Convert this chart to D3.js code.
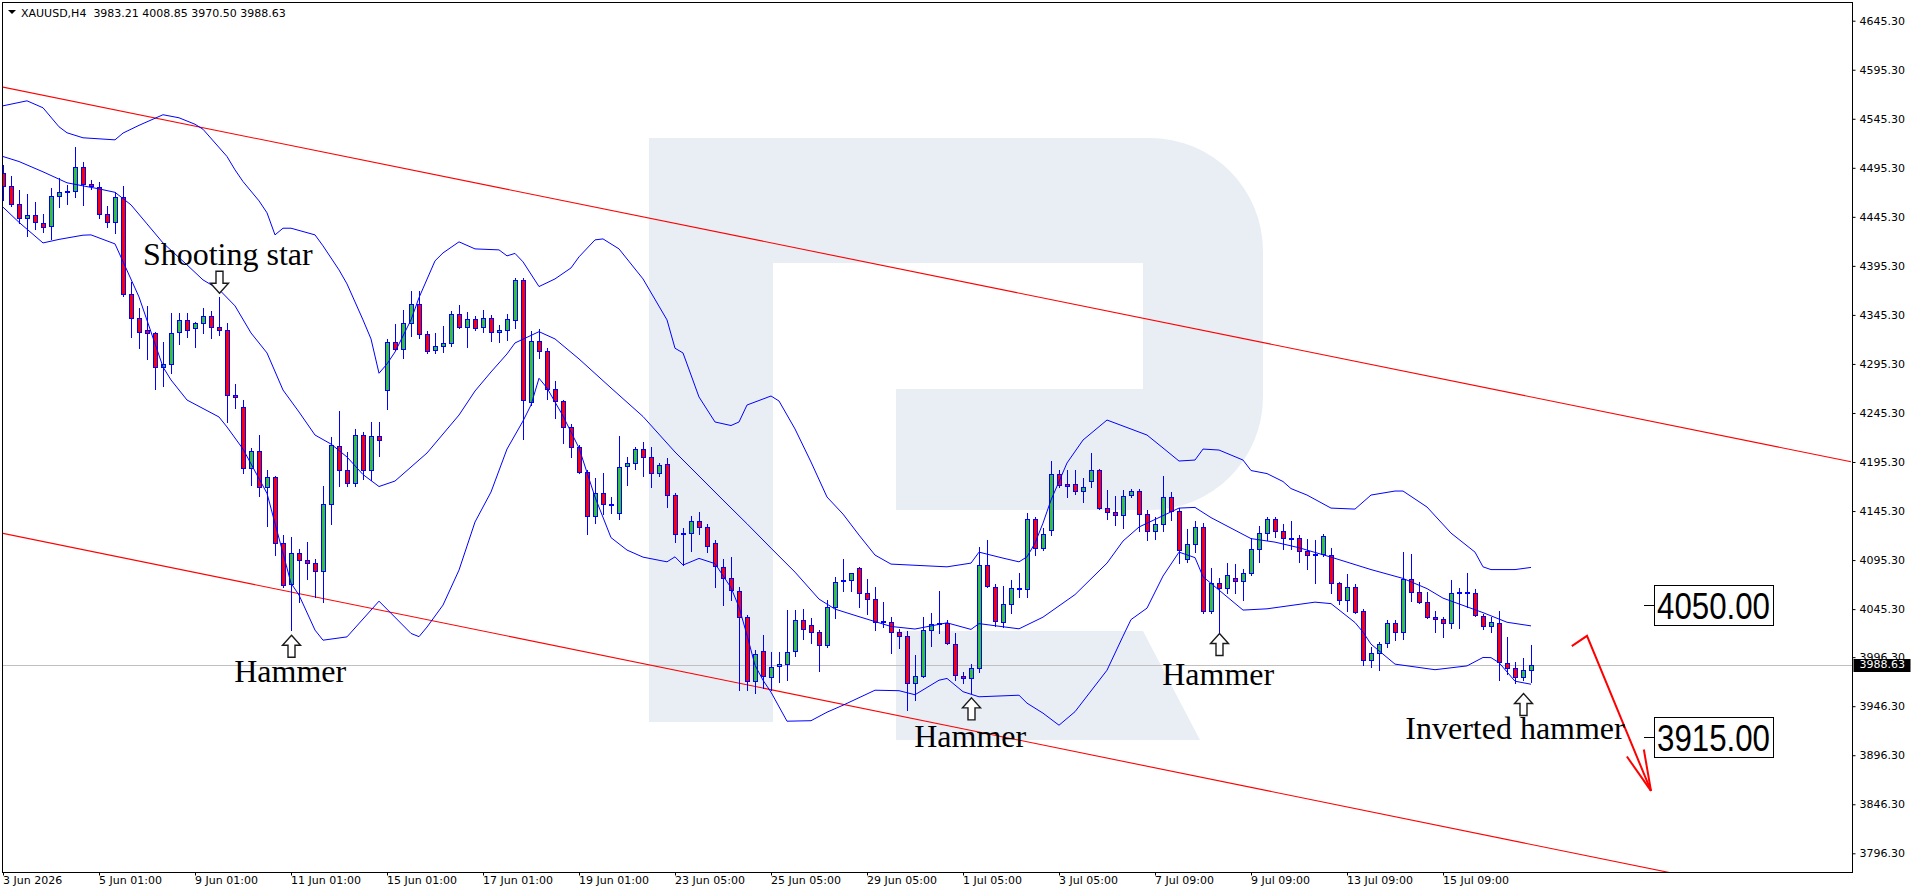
<!DOCTYPE html>
<html><head><meta charset="utf-8">
<script src="https://cdn.jsdelivr.net/npm/d3@7/dist/d3.min.js"></script>
<style>
html,body{margin:0;padding:0;background:#fff;overflow:hidden}
svg{display:block}
.axis text{font-family:"DejaVu Sans",sans-serif;font-size:11px;fill:#000}
</style></head><body>
<svg id="chart" width="1916" height="896"></svg>
<script>
// ---------------- DATA ----------------
const symbol = "XAUUSD,H4";
const opens = [4490.5,4476.9,4458.5,4443.9,4447.0,4438.8,4436.4,4466.7,4470.5,4471.8,4496.0,4478.9,4475.4,4448.0,4440.5,4465.4,4366.4,4342.5,4329.7,4326.6,
4292.5,4295.3,4327.6,4339.9,4331.7,4336.8,4343.9,4332.7,4329.7,4263.6,4251.1,4188.9,4206.5,4169.5,4179.7,4112.3,4070.8,4102.1,4095.0,4092.2,
4083.8,4152.1,4211.3,4187.1,4173.5,4222.5,4187.1,4221.5,4268.4,4317.4,4310.3,4336.8,4356.5,4325.6,4309.6,4313.9,4316.4,4346.0,4332.7,4340.9,
4332.7,4341.9,4327.6,4329.7,4339.9,4380.7,4256.2,4318.7,4308.2,4269.5,4257.2,4230.7,4210.3,4185.1,4140.2,4163.3,4151.7,4142.9,4191.2,4193.9,
4208.2,4200.1,4183.7,4192.9,4161.3,4122.5,4122.5,4135.4,4128.6,4112.3,4088.4,4076.6,4063.9,4037.4,3972.1,4002.9,3976.4,3987.1,3988.9,4002.4,
4034.6,4028.6,4021.5,4008.2,4047.0,4073.8,4074.9,4086.8,4061.3,4055.2,4033.0,4032.3,4021.5,4017.7,3969.5,3977.6,4023.9,4030.0,4031.3,4010.2,
3977.6,3974.6,3985.4,4090.2,4068.0,4031.7,4050.4,4065.4,4065.4,4136.8,4107.2,4125.9,4182.7,4172.5,4172.5,4165.7,4175.9,4187.1,4148.0,4143.9,
4141.2,4161.6,4165.7,4141.9,4124.9,4131.7,4159.3,4145.3,4096.0,4111.3,4128.6,4043.5,4072.1,4066.4,4076.6,4073.8,4081.7,4106.2,4122.5,4137.1,
4124.9,4118.0,4117.4,4104.5,4101.1,4101.1,4100.4,4072.1,4054.5,4068.0,4043.5,3993.2,4000.7,4010.9,4031.3,4021.5,4075.9,4062.9,4052.1,4036.8,
4035.1,4030.7,4061.3,4062.3,4061.3,4038.5,4027.9,4031.3,3989.9,3984.8,3976.2,3983.21];
const highs = [4498.3,4487.1,4472.8,4468.7,4460.3,4448.3,4475.2,4484.8,4477.9,4516.7,4501.1,4482.5,4481.3,4456.8,4470.8,4476.9,4379.3,4352.7,4354.5,4328.2,
4317.4,4347.0,4347.0,4347.0,4338.4,4352.7,4349.4,4364.0,4337.1,4274.6,4258.5,4209.3,4222.8,4187.1,4181.3,4120.8,4119.1,4106.5,4113.3,4096.3,
4170.8,4221.1,4247.3,4205.8,4228.6,4226.2,4235.8,4235.8,4320.5,4336.1,4350.4,4369.8,4369.8,4329.0,4326.6,4334.0,4349.4,4355.5,4348.3,4344.3,
4350.4,4345.3,4335.1,4346.0,4383.3,4383.3,4329.0,4331.0,4311.3,4277.9,4258.5,4234.1,4212.6,4187.1,4178.6,4183.7,4159.3,4221.8,4200.7,4210.9,
4215.4,4210.9,4193.9,4199.1,4163.3,4127.6,4140.5,4144.6,4131.7,4115.7,4095.9,4098.0,4067.4,4039.1,4003.4,4018.8,4001.2,4001.4,4044.3,4044.8,
4045.0,4036.6,4023.8,4054.5,4077.6,4096.0,4082.3,4088.4,4075.6,4068.0,4052.7,4037.4,4024.6,4023.1,3998.3,4037.4,4040.9,4063.6,4033.7,4020.5,
3981.3,3988.9,4108.9,4115.7,4070.5,4068.7,4074.9,4081.7,4143.5,4139.5,4127.6,4196.3,4187.1,4187.1,4187.1,4178.6,4204.8,4188.1,4166.7,4160.6,
4166.7,4167.4,4167.4,4146.3,4139.5,4181.0,4165.0,4148.0,4126.6,4135.1,4133.6,4086.8,4076.6,4091.9,4090.9,4085.8,4117.4,4130.0,4139.5,4139.5,
4131.7,4134.8,4120.8,4116.4,4115.7,4121.5,4107.9,4073.1,4081.0,4070.5,4045.0,4006.8,4012.0,4033.7,4033.7,4103.1,4101.4,4073.1,4062.3,4043.2,
4037.4,4074.9,4066.4,4081.7,4065.7,4039.9,4037.4,4043.5,4016.4,3990.9,3995.6,4008.85];
const lows = [4462.6,4456.5,4438.8,4426.2,4433.0,4430.3,4422.8,4455.8,4458.5,4465.4,4457.5,4473.5,4444.6,4435.4,4429.0,4364.7,4323.1,4311.9,4300.1,4269.5,
4273.1,4286.4,4315.4,4323.1,4312.9,4326.6,4321.5,4324.9,4236.4,4250.1,4183.7,4171.8,4160.9,4130.3,4100.4,4067.4,4023.9,4052.7,4075.9,4057.2,
4052.7,4131.7,4171.1,4171.1,4171.1,4177.9,4176.9,4201.7,4249.1,4309.6,4301.1,4324.2,4321.5,4306.8,4306.2,4307.8,4313.9,4331.7,4312.9,4330.0,
4328.2,4318.3,4317.3,4319.8,4331.7,4219.1,4253.4,4301.7,4259.3,4239.9,4214.4,4200.7,4183.7,4121.5,4132.7,4141.9,4142.9,4136.8,4171.8,4188.1,
4181.3,4169.5,4181.3,4149.7,4114.0,4090.2,4104.5,4121.8,4103.7,4068.0,4049.4,4054.5,3963.3,3963.3,3959.3,3964.4,3962.6,3971.3,3972.8,3997.8,
4014.9,4010.9,3982.3,4006.8,4035.8,4063.9,4063.9,4047.6,4039.9,4023.9,4027.2,4000.1,4005.2,3942.2,3952.4,3976.0,4007.8,4020.5,4009.6,3973.5,
3969.5,3959.9,3981.3,4067.4,4027.9,4027.2,4041.5,4057.2,4057.2,4100.4,4105.5,4120.8,4170.1,4159.9,4162.6,4154.8,4170.1,4147.0,4136.8,4131.0,
4128.2,4159.9,4125.2,4116.0,4117.3,4124.9,4135.8,4092.5,4093.6,4103.7,4041.5,4040.9,4021.2,4062.1,4062.1,4054.5,4080.5,4093.6,4115.7,4118.5,
4106.9,4106.9,4093.6,4085.8,4072.1,4099.4,4061.3,4050.4,4043.5,4040.9,3988.1,3986.4,3983.7,4006.8,4013.6,4015.3,4053.4,4051.1,4036.3,4022.1,
4017.0,4026.2,4026.2,4047.6,4038.1,4024.6,4022.1,3973.5,3979.0,3969.5,3973.5,3970.50];
const closes = [4476.9,4458.2,4443.9,4447.0,4439.9,4434.6,4466.7,4470.5,4471.8,4496.0,4478.6,4476.9,4448.0,4440.5,4465.4,4366.4,4341.9,4328.2,4326.6,4292.5,
4295.0,4327.2,4339.9,4329.7,4336.8,4343.9,4332.7,4329.7,4263.3,4261.3,4188.9,4206.5,4169.5,4179.7,4112.3,4069.5,4102.1,4095.3,4091.9,4083.8,
4152.1,4212.3,4187.1,4173.5,4222.5,4187.1,4221.5,4217.4,4317.4,4310.3,4336.8,4356.5,4325.6,4308.2,4313.9,4316.4,4346.0,4332.7,4340.9,4331.7,
4341.9,4327.6,4330.0,4340.9,4380.7,4258.2,4318.7,4308.2,4269.5,4257.5,4230.7,4210.3,4185.1,4140.2,4163.3,4152.4,4152.4,4190.5,4193.9,4208.2,
4200.1,4183.7,4191.9,4161.3,4121.5,4121.5,4135.4,4128.6,4109.9,4089.7,4076.6,4064.7,4037.4,3972.1,3999.4,3976.6,3986.6,3988.9,4001.9,4034.6,
4024.6,4021.6,4008.2,4047.0,4073.1,4074.9,4081.7,4061.3,4055.2,4031.7,4031.7,4021.5,4017.7,3970.1,3977.6,4023.9,4029.7,4031.3,4010.9,3977.9,
3974.6,3985.4,4090.2,4068.7,4033.0,4050.1,4066.4,4066.4,4136.8,4107.2,4121.5,4182.7,4171.8,4171.1,4165.7,4169.5,4187.1,4148.0,4143.9,4141.2,
4160.9,4165.7,4141.9,4124.9,4131.7,4159.3,4145.3,4105.5,4111.3,4128.6,4043.5,4072.1,4066.4,4080.0,4073.8,4081.7,4106.2,4122.5,4137.1,4124.9,
4117.4,4116.7,4104.5,4100.1,4100.1,4119.8,4072.1,4054.5,4068.0,4042.5,3993.2,4000.7,4009.6,4031.3,4021.5,4075.9,4062.9,4052.1,4037.4,4034.8,
4030.7,4061.9,4062.6,4061.3,4039.2,4027.9,4031.7,3990.9,3984.8,3976.2,3983.7,3988.63];

// Bollinger bands: [bar index, price]
const bbUpper = [[0,4558.5],[3,4563.6],[5,4556.5],[7,4537.1],[8,4531.0],[10,4525.9],[14,4523.8],[15,4530.7],[17,4538.6],[20,4549.4],[22,4546.3],[24,4539.7],[25,4534.6],[28,4506.8],[29,4493.2],[30,4481.3],[32,4461.6],[33,4449.4],[34,4426.9],[35,4433.7],[36,4433.7],[39,4426.9],[40,4415.7],[42,4391.2],[43,4376.9],[45,4340.2],[46,4320.8],[47,4285.8],[48,4295.3],[49,4307.5],[51,4340.2],[52,4362.9],[54,4400.4],[55,4408.5],[57,4419.8],[59,4412.6],[62,4411.6],[63,4405.5],[64,4408.0],[65,4399.4],[67,4374.2],[69,4382.0],[71,4393.2],[72,4404.5],[74,4421.8],[75,4422.8],[77,4412.6],[80,4382.0],[83,4340.2],[84,4311.3],[85,4306.5],[87,4261.6],[89,4236.1],[91,4232.5],[92,4236.1],[93,4253.4],[96,4262.6],[97,4257.5],[99,4229.0],[101,4195.3],[103,4159.6],[105,4142.2],[107,4120.8],[109,4100.4],[111,4091.2],[118,4088.4],[121,4092.2],[122,4103.4],[125,4097.3],[127,4093.5],[128,4098.6],[129,4112.6],[130,4133.0],[131,4156.5],[133,4194.3],[135,4217.7],[138,4238.1],[140,4232.0],[143,4222.8],[145,4209.6],[147,4196.3],[149,4197.3],[150,4208.5],[152,4207.5],[155,4197.3],[156,4186.6],[158,4183.5],[160,4175.4],[161,4168.2],[163,4161.6],[166,4148.3],[169,4147.3],[171,4161.6],[174,4165.7],[175,4165.7],[178,4149.4],[181,4122.8],[184,4103.4],[185,4088.4],[186,4085.6],[189,4085.6],[191,4087.8]];
const bbMiddle = [[0,4506.8],[2,4501.7],[5,4491.2],[8,4480.0],[12,4473.8],[14,4470.3],[16,4457.5],[18,4438.1],[20,4418.7],[23,4396.3],[25,4381.0],[27,4371.3],[29,4354.5],[31,4326.9],[33,4306.5],[35,4268.7],[37,4246.3],[39,4222.8],[41,4213.6],[43,4200.4],[45,4182.5],[47,4170.3],[49,4175.9],[53,4204.5],[57,4243.2],[59,4267.7],[61,4287.1],[63,4305.5],[64,4316.7],[67,4328.2],[69,4320.8],[72,4300.4],[76,4270.8],[80,4241.7],[84,4205.5],[87,4181.0],[90,4156.5],[93,4132.3],[96,4107.5],[99,4083.0],[102,4055.5],[104,4045.3],[107,4037.6],[111,4027.6],[114,4025.0],[118,4031.3],[121,4024.6],[122,4030.5],[127,4025.2],[130,4037.1],[134,4060.1],[138,4092.2],[140,4114.7],[142,4129.0],[147,4148.3],[149,4149.0],[151,4138.6],[156,4117.2],[159,4113.6],[162,4107.9],[166,4098.3],[171,4085.6],[175,4076.6],[178,4066.2],[180,4056.5],[185,4041.7],[188,4031.9],[191,4028.2]];
const bbLower = [[0,4455.2],[2,4439.7],[5,4418.7],[7,4422.3],[10,4426.6],[11,4426.9],[14,4417.7],[15,4399.7],[17,4363.6],[20,4292.2],[21,4279.0],[23,4258.5],[27,4241.2],[28,4231.0],[30,4208.5],[33,4163.3],[36,4071.8],[37,4059.6],[39,4023.9],[40,4013.6],[43,4017.0],[47,4053.4],[51,4020.5],[52,4017.2],[53,4027.0],[55,4049.4],[57,4085.1],[59,4134.1],[61,4164.7],[63,4208.5],[65,4237.1],[66,4253.4],[67,4280.7],[68,4270.8],[70,4242.2],[72,4209.6],[74,4159.6],[76,4118.2],[78,4105.5],[80,4098.3],[83,4093.5],[84,4098.6],[85,4090.2],[87,4097.0],[89,4091.7],[91,4067.2],[92,4047.3],[93,4018.8],[94,3988.1],[95,3972.8],[96,3960.6],[98,3931.0],[101,3931.5],[103,3940.2],[105,3947.3],[109,3962.6],[112,3962.1],[114,3958.0],[117,3972.8],[118,3974.6],[120,3961.1],[122,3955.9],[127,3957.5],[128,3949.4],[130,3939.2],[132,3926.9],[134,3940.7],[138,3983.0],[140,4017.7],[141,4034.6],[143,4046.3],[145,4079.0],[147,4103.4],[149,4097.8],[150,4078.4],[152,4064.7],[155,4044.3],[158,4045.6],[161,4049.0],[164,4052.4],[166,4050.9],[169,4031.6],[170,4021.8],[171,4009.6],[174,3989.2],[179,3983.5],[183,3987.4],[185,3996.0],[186,3995.8],[187,3990.7],[189,3971.8],[191,3968.7]];

// Descending channel (red) and forecast arrow: [bar index, price]
const channelUpper = [[-1,4579.2],[231,4195.5]];
const channelLower = [[-1,4124.2],[231,3739.0]];
const forecast = [[196.1,4007.5],[198.0,4018.0],[206.0,3859.9]];

// Axis ticks
const yTicks = [4645.30,4595.30,4545.30,4495.30,4445.30,4395.30,4345.30,4295.30,4245.30,4195.30,4145.30,4095.30,4045.30,3996.30,3946.30,3896.30,3846.30,3796.30];
const xTickIdx = [0,12,24,36,48,60,72,84,96,108,120,132,144,156,168,180];
const xTickLabels = ["3 Jun 2026","5 Jun 01:00","9 Jun 01:00","11 Jun 01:00","15 Jun 01:00","17 Jun 01:00","19 Jun 01:00","23 Jun 05:00","25 Jun 05:00","29 Jun 05:00","1 Jul 05:00","3 Jul 05:00","7 Jul 09:00","9 Jul 09:00","13 Jul 09:00","15 Jul 09:00"];

// Pattern annotations
const labelTexts = ["Shooting star","Hammer","Hammer","Hammer","Inverted hammer"];
const labelIdx = [28.1,35.9,120.9,151.9,189.0];
const labelPrice = [4396.3,3970.8,3904.5,3967.7,3913.3];
const arrowIdx = [27,36,121,152,190];
const arrowPrice = [4367.4,4018.7,3954.8,4020.5,3959.3];
const arrowDir = ["down","up","up","up","up"];

// Target levels
const levels = [4050.00,3915.00];

// ---------------- DRAW ----------------
const svg = d3.select("#chart");
const L = 2.5, T = 2.5, R = 1852.5, B = 872.5;
const x = d3.scaleLinear().domain([0,191]).range([3,1531]);
const y = d3.scaleLinear().domain([3796.3,4645.3]).range([853.3,20.7]);
const GREEN = "#35c035", RED = "#ff0000", BLUE = "#0000ff";

svg.append("rect").attr("width",1916).attr("height",896).attr("fill","#fff");
const defs = svg.append("defs");
defs.append("clipPath").attr("id","clip").append("rect")
  .attr("x",L+0.5).attr("y",T+0.5).attr("width",R-L-1).attr("height",B-T-1);

// watermark logo
const wm = svg.append("g").attr("fill","#e9eef5");
wm.append("path").attr("d","M649,138H773V722H649Z");
wm.append("path").attr("d","M773,138H1150A113,113 0 0 1 1263,251V397A113,113 0 0 1 1150,510H896V389H1143V263H773Z");
wm.append("path").attr("d","M896,631H1143L1200,740H896Z");

const plot = svg.append("g").attr("clip-path","url(#clip)");

// current price line
const last = closes.length-1;
plot.append("line").attr("x1",L).attr("x2",R)
  .attr("y1",Math.round(y(closes[last]))+0.5).attr("y2",Math.round(y(closes[last]))+0.5)
  .attr("stroke","#c0c0c0");

// channel lines
const lineGen = d3.line().x(d=>x(d[0])).y(d=>y(d[1]));
[channelUpper,channelLower].forEach(c=>{
  plot.append("path").attr("d",lineGen(c)).attr("fill","none").attr("stroke",RED).attr("stroke-width",1.1);
});

// candles
const idx = d3.range(opens.length);
plot.append("g").selectAll("line").data(idx).join("line")
  .attr("x1",i=>x(i)+0.5).attr("x2",i=>x(i)+0.5)
  .attr("y1",i=>Math.round(y(highs[i]))).attr("y2",i=>Math.round(y(lows[i]))+1)
  .attr("stroke",BLUE).attr("stroke-width",1);
plot.append("g").selectAll("rect").data(idx).join("rect")
  .attr("x",i=>x(i)-1.5)
  .attr("y",i=>Math.round(y(Math.max(opens[i],closes[i])))+0.5)
  .attr("width",4)
  .attr("height",i=>Math.max(1,Math.round(y(Math.min(opens[i],closes[i])))-Math.round(y(Math.max(opens[i],closes[i])))))
  .attr("fill",i=>closes[i]>=opens[i]?GREEN:RED)
  .attr("stroke",BLUE).attr("stroke-width",1);

// bands
[bbUpper,bbMiddle,bbLower].forEach(b=>{
  plot.append("path").attr("d",lineGen(b)).attr("fill","none").attr("stroke",BLUE).attr("stroke-width",1);
});

// forecast arrow
const fg = plot.append("g").attr("stroke",RED).attr("stroke-width",2).attr("fill","none");
fg.append("path").attr("d",lineGen(forecast));
{
  const p1 = forecast[forecast.length-2], p2 = forecast[forecast.length-1];
  const tx = x(p2[0]), ty = y(p2[1]);
  const ang = Math.atan2(y(p1[1])-ty, x(p1[0])-tx);
  const len = 42;
  [-0.22,0.22].forEach(da=>{
    fg.append("line").attr("x1",tx).attr("y1",ty)
      .attr("x2",tx+len*Math.cos(ang+da)).attr("y2",ty+len*Math.sin(ang+da));
  });
}

// annotation arrows (outline)
arrowIdx.forEach((ai,k)=>{
  const cx = x(ai)+0.5, ty = y(arrowPrice[k]);
  const s = arrowDir[k]==="up" ? 1 : -1;
  const d = `M${cx},${ty} L${cx+9},${ty+s*10} L${cx+3.5},${ty+s*10} L${cx+3.5},${ty+s*22} L${cx-3.5},${ty+s*22} L${cx-3.5},${ty+s*10} L${cx-9},${ty+s*10} Z`;
  svg.append("path").attr("d",d).attr("fill","#fff").attr("stroke","#1a1a1a").attr("stroke-width",1.4).attr("stroke-linejoin","miter");
});
// annotation labels
labelTexts.forEach((t,k)=>{
  svg.append("text").attr("x",x(labelIdx[k])).attr("y",y(labelPrice[k]))
    .attr("text-anchor","middle").attr("font-family","'Liberation Serif','Times New Roman',serif")
    .attr("font-size",32).attr("fill","#000").text(t);
});

// level boxes
levels.forEach(v=>{
  const cy = Math.round(y(v))+0.5;
  svg.append("line").attr("x1",1644).attr("x2",1654).attr("y1",cy).attr("y2",cy).attr("stroke","#000");
  svg.append("rect").attr("x",1654.5).attr("y",cy-20).attr("width",119).attr("height",40)
    .attr("fill","#fff").attr("stroke","#000");
  svg.append("text").attr("x",1657).attr("y",cy+13)
    .attr("font-family","'Liberation Sans',Arial,sans-serif").attr("font-size",36)
    .attr("textLength",113).attr("lengthAdjust","spacingAndGlyphs").attr("fill","#000")
    .text(d3.format(".2f")(v));
});

// frame
svg.append("rect").attr("x",L).attr("y",T).attr("width",R-L).attr("height",B-T)
  .attr("fill","none").attr("stroke","#000");

// right axis
const ya = svg.append("g").attr("class","axis").attr("transform",`translate(${R},0)`)
  .call(d3.axisRight(y).tickValues(yTicks).tickSize(3).tickPadding(4).tickFormat(d3.format(".2f")));
ya.select(".domain").remove();
ya.selectAll(".tick line").attr("stroke","#000");

// current price tag
{
  const cy = y(closes[last]);
  svg.append("rect").attr("x",R+1).attr("y",Math.round(cy)-6).attr("width",57).attr("height",13).attr("fill","#000");
  svg.append("text").attr("x",R+7).attr("y",cy+0.32*11).attr("font-family","DejaVu Sans,sans-serif")
    .attr("font-size",11).attr("fill","#fff").text(d3.format(".2f")(closes[last]));
}

// bottom axis
const xa = svg.append("g").attr("class","axis").attr("transform",`translate(0,${B})`)
  .call(d3.axisBottom(x).tickValues(xTickIdx).tickSize(3).tickFormat((d,k)=>xTickLabels[k]));
xa.select(".domain").remove();
xa.selectAll(".tick line").attr("stroke","#000");
xa.selectAll(".tick text").attr("text-anchor","start").attr("dx",-0.5).attr("y",4).attr("dy","0.71em");

// header
svg.append("path").attr("d","M8,10H16L12,14Z").attr("fill","#000");
svg.append("text").attr("x",21).attr("y",16.5).attr("font-family","DejaVu Sans,sans-serif").attr("font-size",11).attr("fill","#000")
  .attr("xml:space","preserve")
  .text(`${symbol}  ${d3.format(".2f")(opens[last])} ${d3.format(".2f")(highs[last])} ${d3.format(".2f")(lows[last])} ${d3.format(".2f")(closes[last])}`);
</script>
</body></html>
